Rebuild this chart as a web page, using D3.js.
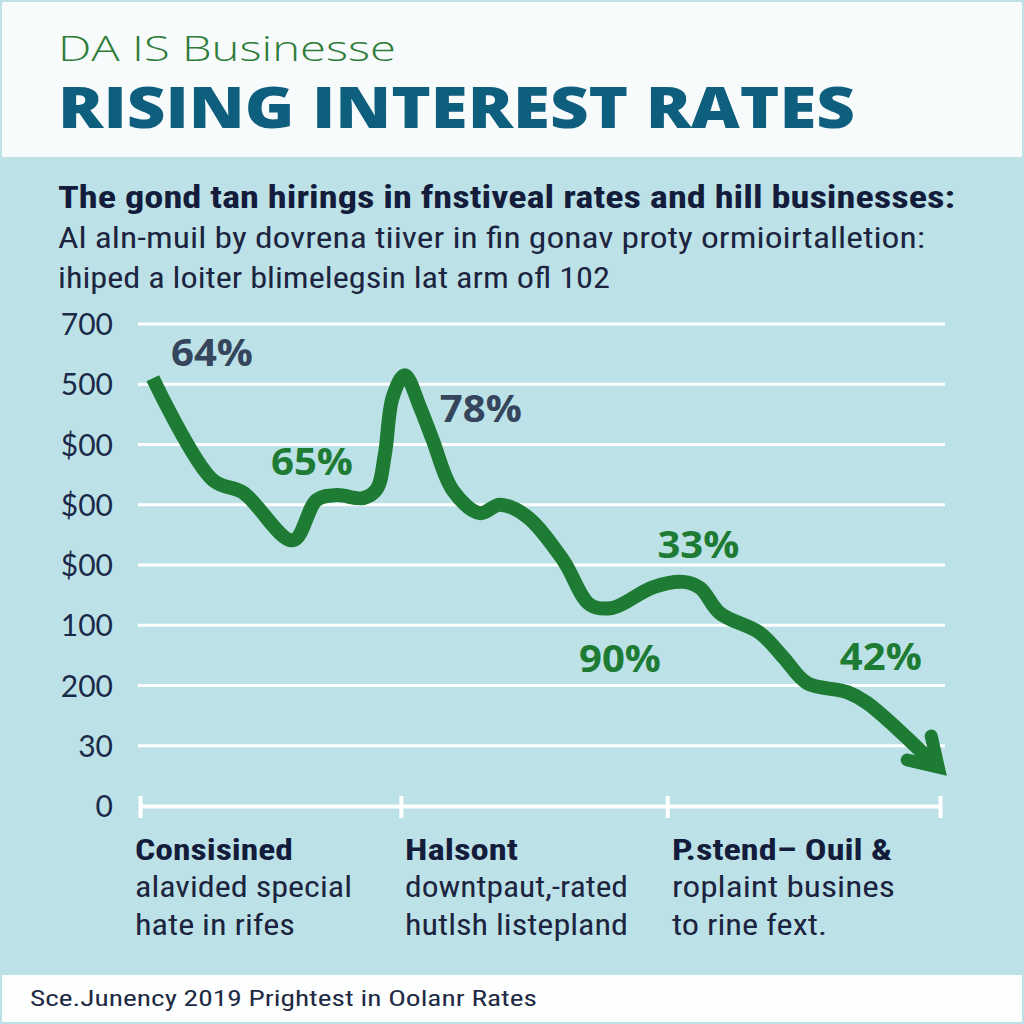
<!DOCTYPE html>
<html><head><meta charset="utf-8">
<script src="https://cdn.jsdelivr.net/npm/d3@7"></script>
<style>
html,body{margin:0;padding:0;background:#fff;}
svg{display:block;}
</style></head>
<body>
<script>
// ---- data ----
const brand = "DA IS Businesse";
const title = "RISING INTEREST RATES";
const subtitleLines = [
  "The gond tan hirings in fnstiveal rates and hill businesses:",
  "Al aln-muil  by dovrena tiiver in fin gonav proty ormioirtalletion:",
  "ihiped a loiter  blimelegsin lat arm ofl 102"
];
const yTickLabels = ["0","30","200","100","$00","$00","$00","500","700"]; // bottom to top
const xTickValues = [0, 32.6, 65.9, 100];
const seriesX = [1.6, 9.1, 12.9, 19.1, 22.1, 24.6, 27.9, 29.6, 30.6, 31.6, 33.1, 35.0, 36.6, 39.1, 42.5, 45.0, 48.4, 52.9, 56.25, 59.1, 64.1, 67.9, 70.0, 72.5, 77.5, 80.4, 83.4, 88.4, 90.9, 99.4];
const seriesY = [7.10, 5.41, 5.20, 4.41, 5.08, 5.16, 5.11, 5.26, 5.83, 6.79, 7.15, 6.62, 6.07, 5.24, 4.86, 5.00, 4.80, 4.08, 3.34, 3.29, 3.63, 3.72, 3.62, 3.20, 2.87, 2.47, 2.04, 1.89, 1.71, 0.68];
const annText = ["64%", "65%", "78%", "33%", "90%", "42%"];
const annX = [9.0, 21.5, 42.6, 69.8, 60.0, 92.6];
const annY = [7.30, 5.50, 6.37, 4.12, 2.23, 2.25];
const annDark = [true, false, true, false, false, false];
const catTitles = ["Consisined", "Halsont", "P.stend\u2013 Ouil &"];
const catLine1 = ["alavided special", "downtpaut,-rated", "roplaint busines"];
const catLine2 = ["hate in rifes", "hutlsh listepland", "to rine fext."];
const footer = "Sce.Junency 2019 Prightest in Oolanr Rates";

// ---- drawing ----
const W = 1024, H = 1024;
const svg = d3.select("body").append("svg").attr("width", W).attr("height", H);
const cond = "'Roboto Condensed','Liberation Sans Narrow','DejaVu Sans Condensed','Roboto',sans-serif";

svg.append("rect").attr("width", W).attr("height", H).attr("fill", "#bce2e8");
svg.append("rect").attr("x", 2).attr("y", 2).attr("width", W - 4).attr("height", 155).attr("fill", "#f8fbfc");
svg.append("rect").attr("x", 2).attr("y", 975).attr("width", W - 4).attr("height", 47).attr("fill", "#fdfefe");

function txt(s, x, y, size, weight, color, family, len) {
  const t = svg.append("text").attr("x", x).attr("y", y).text(s)
    .attr("font-size", size).attr("font-weight", weight).attr("fill", color)
    .attr("font-family", family);
  if (len) t.attr("textLength", len).attr("lengthAdjust", "spacingAndGlyphs");
  return t;
}

txt(brand, 58, 61, 35, 300, "#2f7d3a", "'Open Sans',sans-serif", 338);
txt(title, 58, 128, 56, 800, "#0e5f7e", "'Open Sans',sans-serif", 797);
txt(subtitleLines[0], 58, 208, 31, 700, "#141c3c", cond, 897);
txt(subtitleLines[1], 58, 248, 29, 400, "#1c2440", cond, 867);
txt(subtitleLines[2], 58, 288, 29, 400, "#1c2440", cond, 552);

const y = d3.scaleLinear().domain([0, 8]).range([806, 324]);
const x = d3.scaleLinear().domain([0, 100]).range([140, 940]);

// grid
const grid = svg.append("g");
grid.selectAll("line").data(d3.range(1, 9)).join("line")
  .attr("x1", 138).attr("x2", 945)
  .attr("y1", d => y(d)).attr("y2", d => y(d))
  .attr("stroke", "#ffffff").attr("stroke-width", 3);

// y axis labels via axis
const yAxis = d3.axisLeft(y).tickValues(d3.range(0, 9)).tickSize(0).tickPadding(0)
  .tickFormat(d => yTickLabels[d]);
const ya = svg.append("g").attr("transform", "translate(113,0)").call(yAxis);
ya.select(".domain").remove();
ya.selectAll("text").attr("font-size", 30).attr("fill", "#1b2a48")
  .attr("font-family", "'Lato','Open Sans',sans-serif").attr("dy", "0.35em");

// x axis
const xAxis = d3.axisBottom(x).tickValues(xTickValues).tickSize(0).tickFormat("");
const xa = svg.append("g").attr("transform", `translate(0,${y(0)})`).call(xAxis);
xa.select(".domain").attr("stroke", "#ffffff").attr("stroke-width", 4);
xa.selectAll(".tick line").attr("y1", -10).attr("y2", 12).attr("stroke", "#ffffff").attr("stroke-width", 4);

// series line
const pts = seriesX.map((d, i) => [d, seriesY[i]]);
const line = d3.line().x(d => x(d[0])).y(d => y(d[1])).curve(d3.curveCatmullRom.alpha(0.5));
svg.append("path").attr("d", line(pts)).attr("fill", "none")
  .attr("stroke", "#1e7b34").attr("stroke-width", 14)
  .attr("stroke-linecap", "butt").attr("stroke-linejoin", "round");

// arrow head
const last = pts[pts.length - 1];
const tx = x(last[0]) + 3, ty = y(last[1]) + 2;
svg.append("path")
  .attr("d", `M${tx - 7},${ty - 31} L${tx},${ty} L${tx - 31},${ty - 7}`)
  .attr("fill", "none").attr("stroke", "#1e7b34").attr("stroke-width", 13)
  .attr("stroke-linejoin", "miter").attr("stroke-linecap", "round");

// annotations
annText.forEach((s, i) => {
  svg.append("text").attr("x", x(annX[i])).attr("y", y(annY[i]))
    .attr("text-anchor", "middle").text(s)
    .attr("font-size", 37).attr("font-weight", 700)
    .attr("font-family", "'Open Sans',sans-serif")
    .attr("fill", annDark[i] ? "#35465c" : "#1e7b34")
    .attr("textLength", 82).attr("lengthAdjust", "spacingAndGlyphs");
});

// category labels
const catX = [135, 405, 672];
const titleLen = [158, 113, 220];
const l1Len = [217, 223, 223];
const l2Len = [160, 223, 155];
catTitles.forEach((s, i) => {
  txt(s, catX[i], 860, 30, 700, "#141c3c", cond, titleLen[i]);
  txt(catLine1[i], catX[i], 897, 29, 400, "#1c2440", cond, l1Len[i]);
  txt(catLine2[i], catX[i], 935, 29, 400, "#1c2440", cond, l2Len[i]);
});

txt(footer, 30, 1006, 22, 400, "#1f2a44", cond, 507);
</script>
</body></html>
